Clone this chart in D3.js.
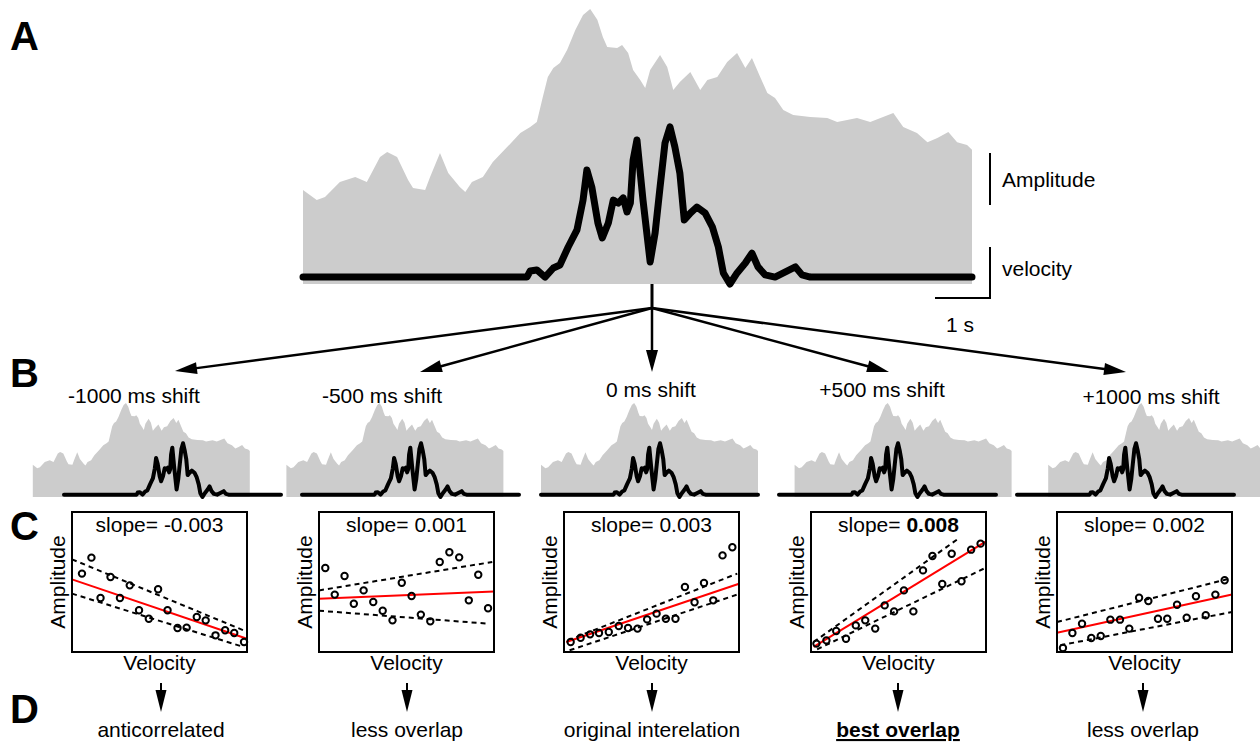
<!DOCTYPE html>
<html><head><meta charset="utf-8">
<script src="https://cdn.jsdelivr.net/npm/d3@7"></script>
<style>
html,body{margin:0;padding:0;background:#fff;}
svg{display:block;font-family:"Liberation Sans",Arial,sans-serif;}
</style></head>
<body><svg id="fig" width="1260" height="743"></svg>
<script>
// ---------- DATA ----------
// Panel A: amplitude envelope (time in s, amplitude a.u. 0-100)
const ampTime = [0,0.25,0.40,0.67,0.95,1.16,1.40,1.53,1.71,1.91,2.00,2.22,2.31,2.49,2.64,2.85,2.95,3.07,3.27,3.45,3.71,3.95,4.13,4.25,4.36,4.45,4.55,4.67,4.80,4.95,5.09,5.22,5.35,5.45,5.53,5.71,5.80,5.91,6.00,6.13,6.22,6.31,6.49,6.62,6.73,6.85,7.04,7.22,7.35,7.53,7.71,7.89,8.04,8.16,8.31,8.44,8.58,8.73,8.91,9.22,9.53,9.71,10.07,10.31,10.73,10.91,11.16,11.35,11.53,11.73,11.89,12.07,12.16];
const ampValue = [34.1,30.4,31.5,37.0,38.8,37.0,46.0,47.8,46.0,37.7,34.8,34.1,38.8,47.5,40.2,35.1,33.3,37.0,38.8,44.2,49.6,54.7,56.9,58.7,67.8,75.0,78.3,80.1,84.8,92.0,97.5,99.6,95.7,89.5,85.9,85.5,86.6,83.7,77.5,73.9,71.0,77.5,83.0,78.6,70.3,73.2,76.8,70.3,73.9,75.0,80.4,83.7,78.3,81.9,75.0,69.2,67.4,63.0,61.2,60.5,60.1,58.7,60.1,58.7,62.0,56.9,54.7,51.4,52.9,55.1,51.4,50.4,48.6];
// Panel A: velocity trace (time in s, velocity a.u. 0-100)
const velTime = [0,4.07,4.13,4.25,4.40,4.55,4.67,4.82,4.98,5.09,5.16,5.25,5.36,5.44,5.55,5.64,5.73,5.82,5.89,5.95,6.00,6.07,6.18,6.31,6.40,6.49,6.58,6.67,6.76,6.85,6.93,7.04,7.16,7.31,7.44,7.55,7.64,7.76,7.89,8.04,8.16,8.27,8.40,8.58,8.76,8.95,9.07,9.22,12.16];
const velValue = [2.5,2.5,4.7,5.1,2.5,5.8,6.9,13.4,19.6,30.4,41.3,35.1,22.1,16.7,22.1,30.4,29.3,31.2,26.1,29.3,44.9,52.2,30.4,8.0,18.5,35.1,51.1,56.9,49.6,40.2,23.2,25.7,27.9,25.7,20.7,13.4,4.0,0.0,4.0,7.6,11.2,6.2,3.3,2.5,4.3,6.2,3.3,2.5,2.5];

// Panel B: time shifts
const shiftMs = [-1000,-500,0,500,1000];
const shiftLabels = ["-1000 ms shift","-500 ms shift","0 ms shift","+500 ms shift","+1000 ms shift"];

// Panel C: scatter (velocity, amplitude; normalised 0-100) per shift
const scatterVelocity = [
  [5.7,11.1,16.3,22.0,27.4,33.0,38.3,43.9,49.2,54.6,60.3,65.5,71.3,76.4,82.0,87.5,92.7,98.3],
  [3.6,9.0,14.6,19.9,25.5,31.0,36.4,42.0,47.3,52.9,58.2,63.6,69.0,74.5,80.1,85.6,91.0,96.6],
  [3.8,9.5,14.9,20.0,25.6,31.3,36.6,42.0,47.5,52.9,58.2,63.7,69.1,74.6,80.0,85.3,90.6,96.2],
  [3.1,8.8,14.4,20.0,25.6,31.0,36.7,42.1,47.5,53.1,58.5,64.0,69.4,75.0,80.4,86.0,91.5,96.9],
  [3.4,8.8,14.3,19.6,25.0,30.5,36.0,41.3,46.9,52.2,57.7,63.0,68.6,74.1,79.4,85.0,90.5,95.8]
];
const scatterAmplitude = [
  [56.0,67.4,38.6,53.6,38.6,47.6,29.8,23.8,44.8,29.8,17.1,17.4,25.0,22.6,11.9,15.5,13.6,7.1],
  [60.0,41.0,54.3,34.5,44.0,35.7,29.5,22.6,49.5,40.0,26.7,21.9,64.3,71.2,67.6,36.9,55.2,31.2],
  [7.1,10.2,12.6,13.6,14.3,18.6,17.1,16.7,23.3,27.4,23.8,23.8,46.4,35.5,49.3,36.9,69.0,74.8],
  [6.0,8.3,15.0,9.5,19.0,22.6,16.7,33.3,29.0,44.0,29.0,58.3,68.6,48.6,70.2,50.5,73.1,77.4],
  [2.9,13.6,20.2,10.0,11.4,23.1,23.1,16.7,38.8,36.4,23.8,23.8,33.8,24.5,39.8,26.2,41.0,51.2]
];
// regression line and confidence bounds: [x0, y0, x1, y1]
const fitLine = [[0,51.9,100,9.5],[0,38.1,100,43.3],[1.3,7.1,100,48.8],[1.5,3.6,100,79.0],[0,13.8,100,41.0]];
const upperBound = [[0,66.2,98,15.5],[0,44.0,99,64.3],[2.3,8.3,99,56.0],[1.5,7.1,84.2,81.0],[0,21.4,97.1,51.9]];
const lowerBound = [[0,41.7,98,3.6],[0,29.5,97,20.2],[3.2,1.2,99,41.0],[3.5,1.9,98.7,59.5],[1.9,4.8,100,28.6]];
const slopeLabels = ["-0.003","0.001","0.003","0.008","0.002"];

// Panel D
const outcomeLabels = ["anticorrelated","less overlap","original interelation","best overlap","less overlap"];
const bestIndex = 3;

// ---------- LAYOUT ----------
const svg = d3.select("#fig");
const GRAY = "#cccccc";
const FS = 21;

function arrow(g, x1, y1, x2, y2, headLen, headHalf, sw) {
  const dx = x2 - x1, dy = y2 - y1, L = Math.hypot(dx, dy);
  const ux = dx / L, uy = dy / L, px = -uy, py = ux;
  const bx = x2 - ux * headLen, by = y2 - uy * headLen;
  g.append("line").attr("x1", x1).attr("y1", y1).attr("x2", bx + ux * 2).attr("y2", by + uy * 2)
    .attr("stroke", "#000").attr("stroke-width", sw);
  g.append("path").attr("d", `M${x2},${y2}L${bx + px * headHalf},${by + py * headHalf}L${bx - px * headHalf},${by - py * headHalf}Z`)
    .attr("fill", "#000");
}

// Panel letters
[["A", 50], ["B", 387], ["C", 540], ["D", 723]].forEach(([t, y]) => {
  svg.append("text").attr("x", 10).attr("y", y).attr("font-size", 40).attr("font-weight", "bold").text(t);
});

// ---------- Panel A ----------
const amp = ampTime.map((t, i) => ({ t, v: ampValue[i] }));
const vel = velTime.map((t, i) => ({ t, v: velValue[i] }));
const xA = d3.scaleLinear().domain([0, 12.16]).range([303, 972]);
const yA = d3.scaleLinear().domain([0, 100]).range([284, 8]);
const yV = d3.scaleLinear().domain([0, 100]).range([284, 8]);

svg.append("path").datum(amp)
  .attr("d", d3.area().x(d => xA(d.t)).y0(yA(0)).y1(d => yA(d.v)))
  .attr("fill", GRAY);
svg.append("path").datum(vel)
  .attr("d", d3.line().x(d => xA(d.t)).y(d => yV(d.v)))
  .attr("fill", "none").attr("stroke", "#000").attr("stroke-width", 7)
  .attr("stroke-linejoin", "round").attr("stroke-linecap", "round");

// scale bars
const sb = svg.append("g").attr("stroke", "#000").attr("stroke-width", 2).attr("fill", "none");
sb.append("line").attr("x1", 990).attr("x2", 990).attr("y1", 153).attr("y2", 205);
sb.append("path").attr("d", "M935,298H990V247");
svg.append("text").attr("x", 1002).attr("y", 187).attr("font-size", FS).text("Amplitude");
svg.append("text").attr("x", 1002).attr("y", 276).attr("font-size", FS).text("velocity");
svg.append("text").attr("x", 960).attr("y", 332).attr("font-size", FS).attr("text-anchor", "middle").text("1 s");

// stem and fan of arrows
const ag = svg.append("g");
ag.append("line").attr("x1", 652).attr("x2", 652).attr("y1", 284).attr("y2", 309).attr("stroke", "#000").attr("stroke-width", 3);
const arrowTips = [[175, 371], [420, 372], [652, 372], [889, 372], [1126, 372]];
arrowTips.forEach(([x, y]) => arrow(ag, 652, 308, x, y, 22, 6, 2.5));

// ---------- Panel B ----------
const miniLineX = [64, 302, 541, 779, 1017];
const pxPerMs = 0.0312;
const xM = d3.scaleLinear().domain([0, 12.16]).range([0, 217]);
const yM = d3.scaleLinear().domain([0, 100]).range([497, 402.6]);
const titleY = [403, 403, 397, 397, 404];
const titleX = [134, 382, 651, 882, 1151];

shiftMs.forEach((s, i) => {
  const g = svg.append("g");
  const gx = miniLineX[i] + s * pxPerMs;
  g.append("path").datum(amp)
    .attr("transform", `translate(${gx},0)`)
    .attr("d", d3.area().x(d => xM(d.t)).y0(yM(0)).y1(d => yM(d.v)))
    .attr("fill", GRAY);
  g.append("path").datum(vel)
    .attr("transform", `translate(${miniLineX[i]},0)`)
    .attr("d", d3.line().x(d => xM(d.t)).y(d => yM(d.v)))
    .attr("fill", "none").attr("stroke", "#000").attr("stroke-width", 4)
    .attr("stroke-linejoin", "round").attr("stroke-linecap", "round");
  svg.append("text").attr("x", titleX[i]).attr("y", titleY[i]).attr("font-size", FS)
    .attr("text-anchor", "middle").text(shiftLabels[i]);
});

// ---------- Panel C ----------
const boxX = [72, 319, 564, 811, 1057];
const boxW = 175, boxTop = 512, boxBot = 652;

shiftMs.forEach((s, i) => {
  const x = d3.scaleLinear().domain([0, 100]).range([boxX[i], boxX[i] + boxW]);
  const y = d3.scaleLinear().domain([0, 100]).range([boxBot, boxTop]);
  const g = svg.append("g");
  const seg = (arr, col, dash) => g.append("line")
    .attr("x1", x(arr[0])).attr("y1", y(arr[1])).attr("x2", x(arr[2])).attr("y2", y(arr[3]))
    .attr("stroke", col).attr("stroke-width", 2).attr("stroke-dasharray", dash);
  seg(upperBound[i], "#000", "5,4");
  seg(lowerBound[i], "#000", "5,4");
  seg(fitLine[i], "#ff0000", null);
  g.selectAll("circle").data(scatterVelocity[i].map((v, k) => [v, scatterAmplitude[i][k]]))
    .join("circle").attr("cx", d => x(d[0])).attr("cy", d => y(d[1])).attr("r", 3.2)
    .attr("fill", "none").attr("stroke", "#000").attr("stroke-width", 2);
  g.append("rect").attr("x", boxX[i]).attr("y", boxTop).attr("width", boxW).attr("height", boxBot - boxTop)
    .attr("fill", "none").attr("stroke", "#000").attr("stroke-width", 2);
  const cx = boxX[i] + boxW / 2;
  const t = g.append("text").attr("x", cx).attr("y", 532).attr("font-size", FS).attr("text-anchor", "middle");
  t.append("tspan").text("slope= ");
  t.append("tspan").attr("font-weight", i === bestIndex ? "bold" : "normal").text(slopeLabels[i]);
  g.append("text").attr("transform", `translate(${boxX[i] - 7},${(boxTop + boxBot) / 2}) rotate(-90)`)
    .attr("font-size", FS).attr("text-anchor", "middle").text("Amplitude");
  g.append("text").attr("x", cx).attr("y", 670).attr("font-size", FS).attr("text-anchor", "middle").text("Velocity");
});

// ---------- Panel D ----------
const dX = [161, 407, 652, 898, 1143];
outcomeLabels.forEach((lab, i) => {
  arrow(svg, dX[i], 683, dX[i], 712, 22, 5.5, 2);
  svg.append("text").attr("x", dX[i]).attr("y", 737).attr("font-size", FS).attr("text-anchor", "middle")
    .attr("font-weight", i === bestIndex ? "bold" : "normal")
    .attr("text-decoration", i === bestIndex ? "underline" : "none").text(lab);
});
</script></body></html>
